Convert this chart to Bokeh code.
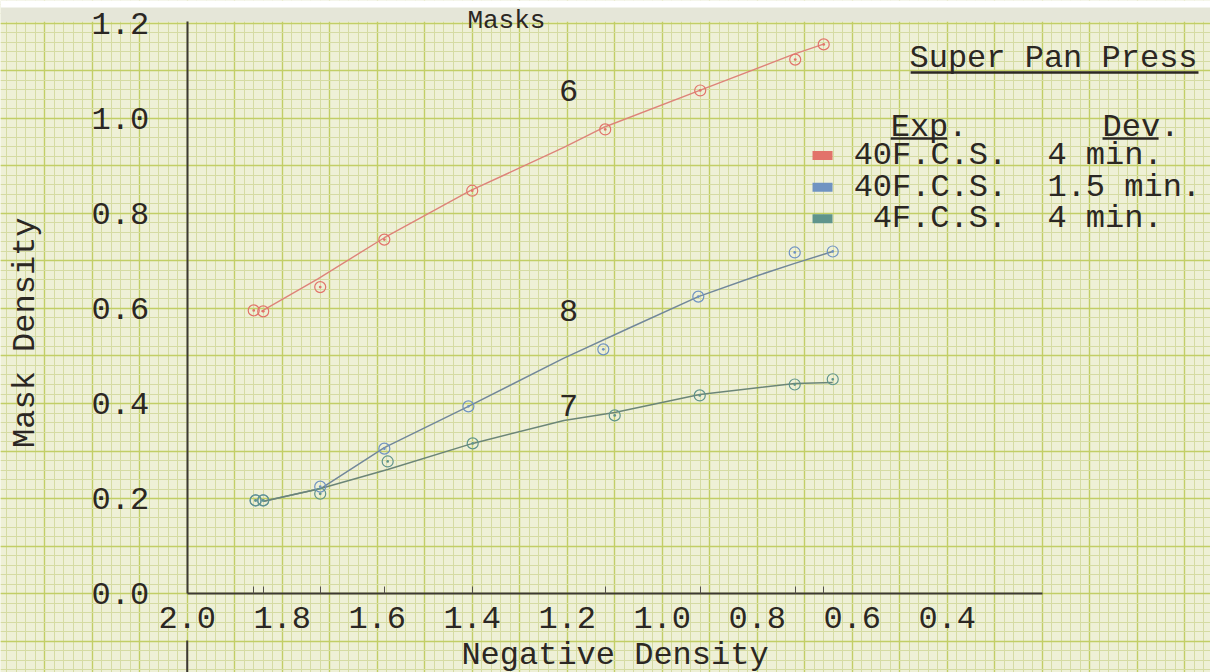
import math
from bokeh.plotting import figure
from bokeh.models import (Range1d, FixedTicker, SingleIntervalTicker, BoxAnnotation,
                          PrintfTickFormatter)
from bokeh.core.properties import value
from bokeh.embed import file_html
from bokeh.resources import INLINE

# ---------------- data read from the sheet ----------------
# Curve 6 : 40F.C.S., 4 min. (red)
red_x = [1.86, 1.84, 1.72, 1.585, 1.40, 1.12, 0.92, 0.72, 0.66]
red_y = [0.596, 0.594, 0.645, 0.745, 0.848, 0.977, 1.059, 1.124, 1.156]
# Curve 8 : 40F.C.S., 1.5 min. (blue)
blue_x = [1.856, 1.84, 1.72, 1.585, 1.408, 1.124, 0.924, 0.721, 0.641]
blue_y = [0.196, 0.196, 0.225, 0.305, 0.394, 0.514, 0.625, 0.718, 0.72]
# Curve 7 : 4F.C.S., 4 min. (green)
green_x = [1.856, 1.84, 1.72, 1.578, 1.399, 1.10, 0.921, 0.721, 0.641]
green_y = [0.196, 0.196, 0.21, 0.278, 0.316, 0.375, 0.417, 0.44, 0.451]

# hand-drawn smooth curves, traced from the sheet
red_curve_x = [1.844, 1.724, 1.585, 1.404, 1.207, 1.124, 0.921, 0.724, 0.662]
red_curve_y = [0.594, 0.663, 0.749, 0.848, 0.939, 0.981, 1.059, 1.135, 1.156]
blue_curve_x = [1.839, 1.719, 1.585, 1.408, 1.208, 1.067, 0.924, 0.80, 0.721, 0.641]
blue_curve_y = [0.194, 0.221, 0.307, 0.394, 0.495, 0.56, 0.625, 0.669, 0.695, 0.72]
green_curve_x = [1.839, 1.719, 1.578, 1.399, 1.207, 1.10, 0.921, 0.721, 0.641]
green_curve_y = [0.194, 0.221, 0.261, 0.316, 0.364, 0.381, 0.419, 0.442, 0.444]

x_ticks = [2.0, 1.8, 1.6, 1.4, 1.2, 1.0, 0.8, 0.6, 0.4]
y_ticks = [0.0, 0.2, 0.4, 0.6, 0.8, 1.0, 1.2]

curve_labels = ["6", "8", "7"]
legend_exp = ["40F.C.S.", "40F.C.S.", "4F.C.S."]
legend_dev = ["4 min.", "1.5 min.", "4 min."]

# ---------------- styling ----------------
FONT = value("Liberation Mono")
FS = "32px"
INK = "#2b2723"
PAPER = "#eef0d6"
RED = "#e2736a"
BLUE = "#6f93c2"
GREEN = "#5f948c"
RED_LINE = "#de8379"
BLUE_LINE = "#71879a"
GREEN_LINE = "#6b8577"

X0, X1 = 2.3931, -0.1543
Y0, Y1 = -0.1663, 1.2484

p = figure(width=1210, height=672, x_range=Range1d(X0, X1), y_range=Range1d(Y0, Y1),
           output_backend="svg", toolbar_location=None, min_border=0,
           background_fill_color=PAPER, border_fill_color=PAPER, outline_line_color=None)

# graph-paper grid
for g in (p.xgrid[0], p.ygrid[0]):
    g.ticker = SingleIntervalTicker(interval=0.1, num_minor_ticks=5)
    g.grid_line_color = "#c2ce66"
    g.grid_line_width = 1.4
    g.minor_grid_line_color = "#d5dba3"
    g.minor_grid_line_width = 1
p.xgrid[0].bounds = (X1, X0)
p.ygrid[0].bounds = (Y0, Y1)

# paper edge at the top of the scan
p.add_layout(BoxAnnotation(bottom=1.2035, fill_color="#e5e6d8", fill_alpha=1,
                           line_color=None, level="underlay"))
p.add_layout(BoxAnnotation(bottom=1.2337, fill_color="#ffffff", fill_alpha=1,
                           line_color=None, level="underlay"))

# axes drawn inside the sheet
xa = p.xaxis[0]
xa.fixed_location = 0
xa.bounds = (0.2, 2.0)
xa.ticker = FixedTicker(ticks=x_ticks, minor_ticks=red_x)
xa.formatter = PrintfTickFormatter(format="%.1f")
xa.major_tick_in = 0
xa.major_tick_out = 0
xa.minor_tick_in = 7
xa.minor_tick_out = 0
xa.minor_tick_line_color = "#55504a"
xa.axis_line_color = "#3d3833"
xa.axis_line_width = 2
xa.major_label_text_font = "Liberation Mono"
xa.major_label_text_font_size = FS
xa.major_label_text_color = INK
xa.major_label_standoff = 13
xa.axis_label = "Negative Density"
xa.axis_label_text_font = "Liberation Mono"
xa.axis_label_text_font_size = FS
xa.axis_label_text_font_style = "normal"
xa.axis_label_text_color = INK
xa.axis_label_standoff = 6

ya = p.yaxis[0]
ya.fixed_location = 2.0
ya.bounds = (0.0, 1.205)
ya.ticker = FixedTicker(ticks=y_ticks)
ya.formatter = PrintfTickFormatter(format="%.1f")
ya.major_tick_in = 0
ya.major_tick_out = 0
ya.minor_tick_in = 0
ya.minor_tick_out = 0
ya.axis_line_color = "#3d3833"
ya.axis_line_width = 2
ya.major_label_text_font = "Liberation Mono"
ya.major_label_text_font_size = FS
ya.major_label_text_color = INK
ya.major_label_standoff = 38

# y axis title, placed where it was typed on the sheet
p.text(x=[2.340], y=[0.549], text=["Mask Density"], angle=math.pi / 2,
       text_font=FONT, text_font_size=FS, text_color=INK,
       text_align="center", text_baseline="middle")

# stray pencil line below the axis
p.segment(x0=[2.0], y0=[-0.099], x1=[2.0], y1=[-0.17], line_color="#3d3833", line_width=2)

# curves
p.line(red_curve_x, red_curve_y, line_color=RED_LINE, line_width=1.4)
p.line(blue_curve_x, blue_curve_y, line_color=BLUE_LINE, line_width=1.5)
p.line(green_curve_x, green_curve_y, line_color=GREEN_LINE, line_width=1.5)

# plotted points
p.scatter(red_x, red_y, marker="circle_dot", size=11, fill_color=None,
          line_color=RED, line_width=1.2)
p.scatter(blue_x, blue_y, marker="circle_dot", size=11, fill_color=None,
          line_color=BLUE, line_width=1.2)
p.scatter(green_x, green_y, marker="circle_dot", size=11, fill_color=None,
          line_color=GREEN, line_width=1.2)

# curve numbers
p.text(x=[1.197, 1.197, 1.197], y=[1.059, 0.596, 0.396], text=curve_labels,
       text_font=FONT, text_font_size=FS, text_color=INK,
       text_align="center", text_baseline="middle")

# heading at the very top of the sheet
p.text(x=[1.328], y=[1.205], text=["Masks"], text_font=FONT, text_font_size="26px",
       text_color=INK, text_align="center", text_baseline="alphabetic")

# key
p.text(x=[-0.127], y=[1.126], text=["Super Pan Press"], text_font=FONT,
       text_font_size=FS, text_color=INK, text_align="right", text_baseline="middle")
p.segment(x0=[0.477], y0=[1.097], x1=[-0.129], y1=[1.097], line_color=INK, line_width=2.5)

p.text(x=[0.519, 0.073], y=[0.981, 0.981], text=["Exp.", "Dev."], text_font=FONT,
       text_font_size=FS, text_color=INK, text_align="left", text_baseline="middle")
p.segment(x0=[0.519, 0.073], y0=[0.958, 0.958], x1=[0.400, -0.045], y1=[0.958, 0.958],
          line_color=INK, line_width=2.5)

row_y = [0.922, 0.855, 0.789]
p.rect(x=[0.6625] * 3, y=row_y, width=20, height=9, width_units="screen",
       height_units="screen", fill_color=[RED, BLUE, GREEN], line_color=None)
p.text(x=[0.597, 0.597, 0.557], y=row_y, text=legend_exp, text_font=FONT,
       text_font_size=FS, text_color=INK, text_align="left", text_baseline="middle")
p.text(x=[0.189] * 3, y=row_y, text=legend_dev, text_font=FONT,
       text_font_size=FS, text_color=INK, text_align="left", text_baseline="middle")

open("out.html", "w").write(file_html(p, INLINE))
